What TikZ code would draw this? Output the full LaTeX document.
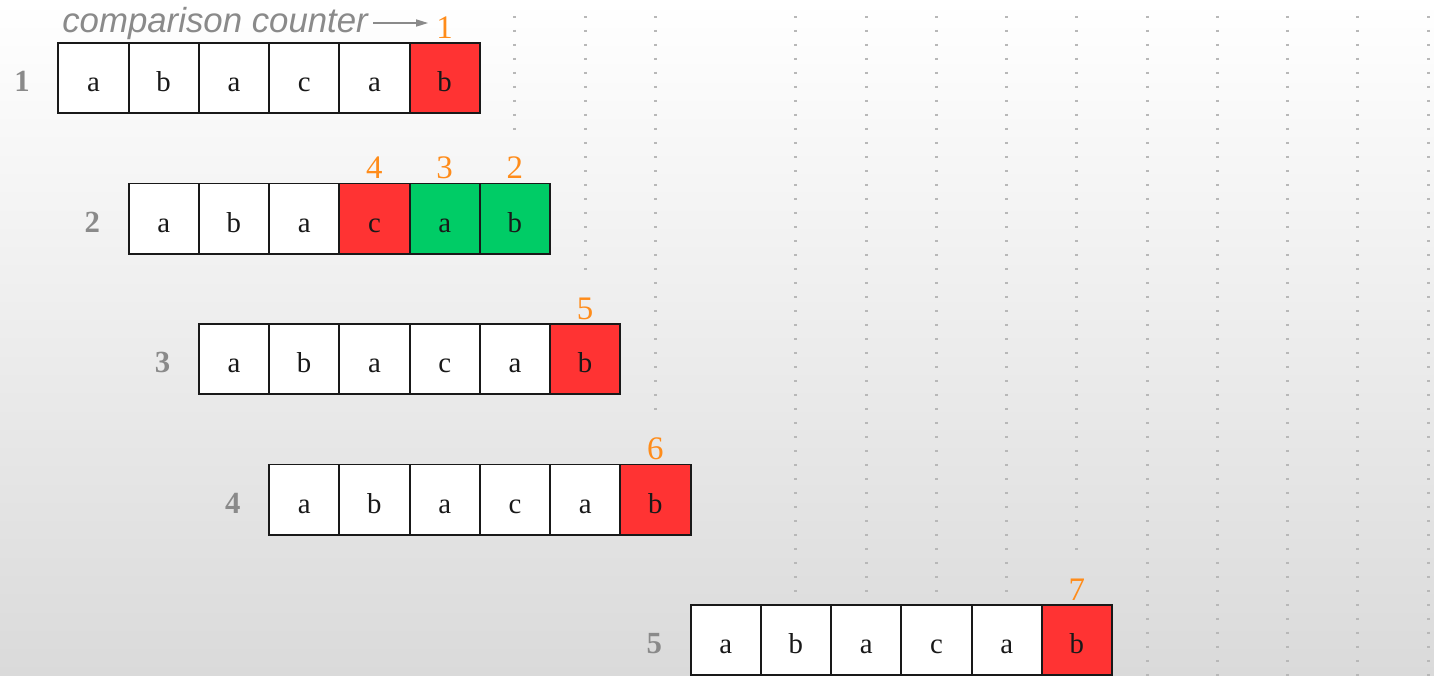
\documentclass[tikz,border=0pt]{standalone}
\usepackage{fontspec}
\setmainfont{Liberation Serif}
\newfontfamily\capfont{Liberation Sans}
\usetikzlibrary{arrows.meta}
\definecolor{cellred}{HTML}{FF3333}
\definecolor{cellgreen}{HTML}{00CC66}
\definecolor{cntorange}{HTML}{FF8C1A}
\definecolor{labgray}{HTML}{8A8A8A}
\definecolor{dotgray}{HTML}{B8B8B8}
\definecolor{bgbottom}{HTML}{DADADA}
\begin{document}
\begin{tikzpicture}[x=0.02cm,y=-0.02cm,
  cell/.style={draw=black!90, line width=1.1pt, minimum width=1.405cm, minimum height=1.405cm,
    inner sep=0pt, outer sep=0pt, anchor=north west, text height=15.3pt, text depth=0pt,
    font=\fontsize{16.4}{18}\selectfont, text=black!90},
  counter/.style={anchor=base, inner sep=0pt, text=cntorange, font=\fontsize{18.7}{20}\selectfont},
  rowlab/.style={anchor=base, inner sep=0pt, text=labgray, font=\fontsize{17.5}{19}\selectfont\bfseries},
  caption/.style={anchor=base west, inner sep=0pt, text=labgray, font=\capfont\itshape\fontsize{19.8}{22}\selectfont},
  carrow/.style={draw=labgray, line width=0.85pt, -{Triangle[length=0.24cm, width=0.14cm]}},
  dotline/.style={draw=dotgray, line width=0.06cm, dash pattern=on 0.05cm off 0.23cm}
]
\useasboundingbox (0,0) rectangle (1434,676);
\shade[top color=white, bottom color=bgbottom] (0,0) rectangle (1434,676);

% dotted guide lines
\foreach \k/\e in {6/130,7/271,8/411,10/594,11/594,12/594,13/594,14/552,15/676,16/676,17/676,18/676,19/676}
  \draw[dotline] ({93.4+70.25*\k},16) -- ({93.4+70.25*\k},\e);

% row 1
\foreach \l/\f [count=\j] in {a/white,b/white,a/white,c/white,a/white,b/cellred}
  \node[cell, fill=\f] (r1c\j) at ({58.3+70.25*(\j-1)},43) {\l};
% row 2
\foreach \l/\f [count=\j] in {a/white,b/white,a/white,c/cellred,a/cellgreen,b/cellgreen}
  \node[cell, fill=\f] (r2c\j) at ({128.55+70.25*(\j-1)},183.5) {\l};
% row 3
\foreach \l/\f [count=\j] in {a/white,b/white,a/white,c/white,a/white,b/cellred}
  \node[cell, fill=\f] (r3c\j) at ({198.8+70.25*(\j-1)},324) {\l};
% row 4
\foreach \l/\f [count=\j] in {a/white,b/white,a/white,c/white,a/white,b/cellred}
  \node[cell, fill=\f] (r4c\j) at ({269.05+70.25*(\j-1)},464.5) {\l};
% row 5
\foreach \l/\f [count=\j] in {a/white,b/white,a/white,c/white,a/white,b/cellred}
  \node[cell, fill=\f] (r5c\j) at ({690.55+70.25*(\j-1)},605) {\l};

% row labels
\node[rowlab] (L1) at (22,91.5) {1};
\node[rowlab] (L2) at (92.3,232) {2};
\node[rowlab] (L3) at (162.5,372.5) {3};
\node[rowlab] (L4) at (232.8,513) {4};
\node[rowlab] (L5) at (654.3,653.5) {5};

% comparison counters
\node[counter] (n1) at ([yshift=0.1cm]r1c6.north) {1};
\node[counter] (n2) at ([yshift=0.1cm]r2c6.north) {2};
\node[counter] (n3) at ([yshift=0.1cm]r2c5.north) {3};
\node[counter] (n4) at ([yshift=0.1cm]r2c4.north) {4};
\node[counter] (n5) at ([yshift=0.1cm]r3c6.north) {5};
\node[counter] (n6) at ([yshift=0.1cm]r4c6.north) {6};
\node[counter] (n7) at ([yshift=0.1cm]r5c6.north) {7};

% caption with arrow
\node[caption] (cap) at (62,32) {comparison counter};
\draw[carrow] ([xshift=0.1cm]cap.east) -- ([xshift=-0.16cm]n1.west |- cap.east);
\end{tikzpicture}
\end{document}
